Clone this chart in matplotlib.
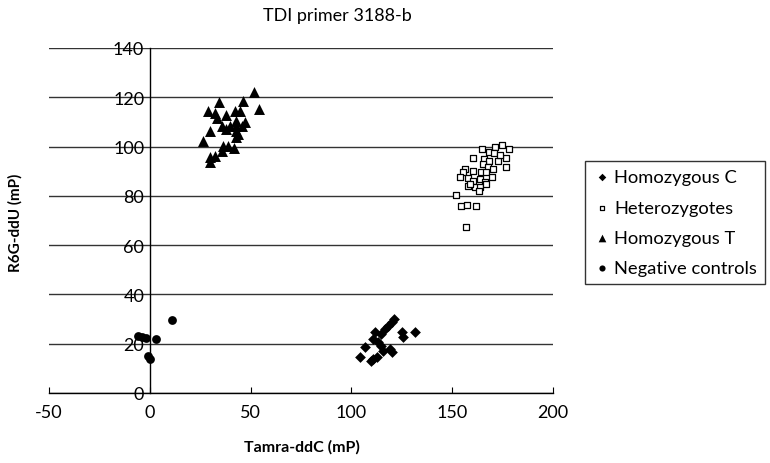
import matplotlib.pyplot as plt
import matplotlib as mpl

mpl.rcParams.update({
    "font.family": ["Lato", "DejaVu Sans"],
    "font.size": 11,
    "axes.unicode_minus": False,
    "axes.facecolor": "white",
    "figure.facecolor": "white",
})

hom_c_x = [121, 119.9, 118.2, 116.6, 111.6, 125.3, 131.4, 125.6, 114.9, 110.8,
           113.3, 114.9, 106.6, 115.7, 119, 119.9, 104.5, 110.5, 109.5, 112.8]
hom_c_y = [30.0, 28.9, 27.3, 26.0, 24.9, 24.9, 24.9, 22.6, 23.9, 21.9,
           20.6, 19.2, 18.5, 17.2, 17.9, 16.6, 14.5, 13.8, 13.1, 14.5]

het_x = [174.8, 171.1, 165, 178.1, 168.3, 170.6, 160.1, 165.8, 176.9, 172.8,
         168.3, 165.3, 167.7, 176.9, 156.3, 155.4, 170.3, 164.5, 167, 153.8,
         157.9, 160.4, 163.7, 169.5, 166.2, 157.9, 161.2, 163.7, 167, 163.3,
         151.8, 154.6, 157.4, 162, 156.7, 173.5, 160.5, 158.6]
het_y = [100.8, 99.7, 99.0, 99.0, 97.9, 97.4, 95.4, 95.0, 95.2, 94.3,
         94.3, 92.9, 91.9, 91.6, 90.9, 89.8, 90.9, 89.8, 89.5, 87.5,
         87.1, 86.2, 86.8, 87.5, 85.5, 83.9, 83.4, 83.4, 84.9, 82.1,
         80.5, 75.8, 76.3, 75.8, 67.2, 96.5, 90.0, 85.0]

hom_t_x = [51.7, 34.4, 46, 54.2, 29.1, 32.2, 42.2, 44.6, 38, 33.4,
           47.1, 43, 35.6, 39.7, 43, 45.8, 38, 43, 30.1, 43.8,
           42.7, 26.5, 36.4, 38.8, 41.7, 35.6, 32.2, 29.8, 29.8]
hom_t_y = [122.3, 118.0, 118.6, 115.3, 114.3, 113.5, 114.4, 114.4, 112.8, 111.5,
           110.1, 110.5, 108.5, 108.5, 108.5, 108.2, 107.1, 106.4, 106.2, 105.1,
           103.8, 102.1, 100.4, 100.4, 99.3, 98.3, 96.1, 95.7, 93.6]

neg_x = [11.2, -5.8, -4.1, -2, 3.3, -0.8, 0]
neg_y = [29.7, 23.3, 22.6, 22.2, 21.9, 14.9, 13.8]

fig = plt.figure(figsize=(7.7, 4.64), dpi=100)
ax = fig.add_axes([0.0636, 0.1509, 0.7182 - 0.0636, 0.8944 - 0.1509])

ax.scatter(hom_c_x, hom_c_y, marker="D", s=30, color="black", lw=0,
           label="Homozygous C", zorder=3)
ax.scatter(het_x, het_y, marker="s", s=24, facecolor="white", edgecolor="black",
           lw=0.9, label="Heterozygotes", zorder=3)
ax.scatter(hom_t_x, hom_t_y, marker="^", s=62, color="black", lw=0,
           label="Homozygous T", zorder=3)
ax.scatter(neg_x, neg_y, marker="o", s=40, color="black", lw=0,
           label="Negative controls", zorder=3)

ax.set_xlim(-50, 200)
ax.set_ylim(0, 140)
ax.set_xticks([-50, 0, 50, 100, 150, 200])
ax.set_yticks(range(0, 141, 20))
ax.yaxis.grid(True, color="#333333", linewidth=1.0)
ax.set_axisbelow(True)

ax.spines["top"].set_visible(False)
ax.spines["right"].set_visible(False)
ax.spines["left"].set_position(("data", 0))
ax.spines["left"].set_linewidth(1.0)
ax.spines["bottom"].set_linewidth(1.0)
ax.tick_params(axis="x", direction="in", length=4, pad=8, labelsize=13)
ax.tick_params(axis="y", direction="in", length=0, pad=4, labelsize=13)

fig.text(0.02, 0.52, "R6G-ddU (mP)", rotation=90, ha="center", va="center",
         fontsize=11, fontweight="bold")
fig.text(0.392, 0.035, "Tamra-ddC (mP)", ha="center", va="center",
         fontsize=11.5, fontweight="bold")
fig.text(0.438, 0.966, "TDI primer 3188-b", ha="center", va="center", fontsize=13)

leg = ax.legend(loc="upper left", bbox_to_anchor=(585 / 770, 1 - 162 / 464),
                bbox_transform=fig.transFigure, frameon=True, fancybox=False,
                edgecolor="black", fontsize=13.2, handletextpad=0.15,
                handlelength=1.0, markerscale=0.7, labelspacing=0.78,
                borderpad=0.45, borderaxespad=0)
leg.get_frame().set_linewidth(1.0)

plt.savefig("out.png", dpi=100, facecolor="white")
